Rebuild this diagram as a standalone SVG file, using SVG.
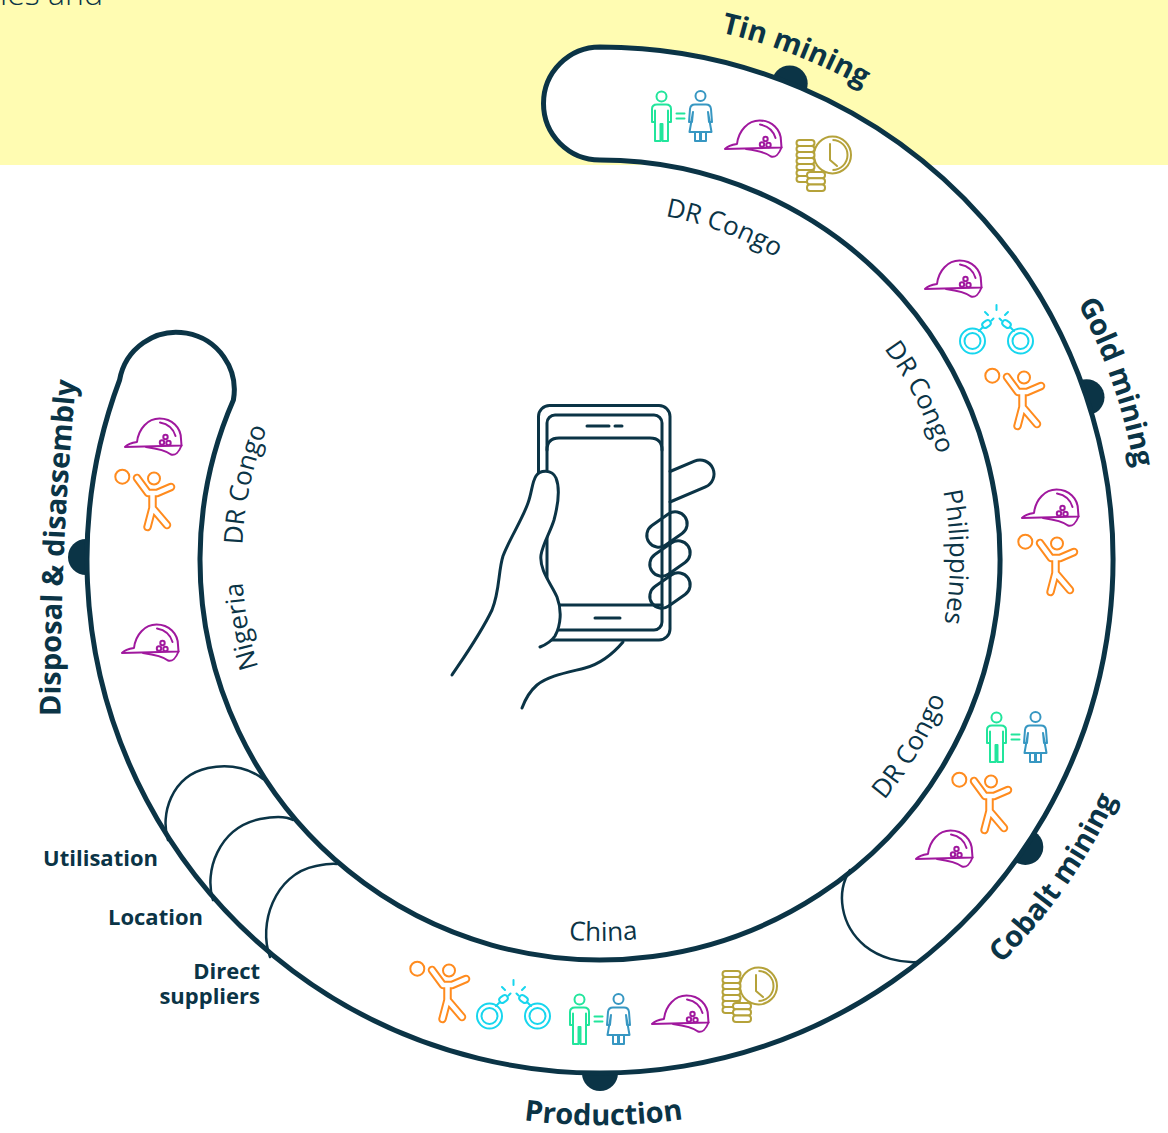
<svg xmlns="http://www.w3.org/2000/svg" width="1168" height="1133" viewBox="0 0 1168 1133">
<style>
  .band{fill:#fff;stroke:#0b3446;stroke-width:5}
  .cap{fill:none;stroke:#0b3446;stroke-width:2.5;stroke-linecap:round}
  .knob{fill:#0b3446}
  .stage{font-family:"Open Sans","Noto Sans","DejaVu Sans",sans-serif;font-weight:700;font-size:29px;fill:#0b3446}
  .place{font-family:"Open Sans","Noto Sans","DejaVu Sans",sans-serif;font-weight:400;font-size:26px;fill:#0b3446}
  .tier{font-family:"Open Sans","Noto Sans","DejaVu Sans",sans-serif;font-weight:700;font-size:22px;fill:#0b3446;text-anchor:end}
  .intro{font-family:"Open Sans","Noto Sans","DejaVu Sans",sans-serif;font-weight:300;font-size:32px;fill:#0b3446}
  .line{fill:none;stroke:#0b3446;stroke-width:3;stroke-linecap:round;stroke-linejoin:round}
</style>
<defs>
  <!-- baselines for the curved labels (centre 600,560) -->
  <path id="arc-tin" d="M515.4,25.6 A541,541 0 0,1 1020.4,219.5"/>
  <path id="arc-gold" d="M955.6,150.9 A542,542 0 0,1 1132,663.4"/>
  <path id="arc-cobalt" d="M840.5,1075.7 A569,569 0 0,0 1166.8,609.6"/>
  <path id="arc-prod" d="M319.5,1051.3 A567,567 0 0,0 886.5,1047.4"/>
  <path id="arc-disp" d="M61,760 Q57,530 85,300"/>
  <path id="arc-c-tin" d="M542.2,214.8 A350,350 0 0,1 870.1,337.4"/>
  <path id="arc-c-gold" d="M792.8,263.1 A354,354 0 0,1 953.5,578.5"/>
  <path id="arc-c-phil" d="M901.6,382.4 A350,350 0 0,1 904.6,732.3"/>
  <path id="arc-c-cob" d="M780.3,885.4 A372,372 0 0,0 971.9,566.5"/>
  <path id="arc-c-china" d="M412.4,891.6 A381,381 0 0,0 793.4,888.3"/>
  <path id="arc-c-left" d="M259.5,670.6 A358,358 0 0,1 334,320.5"/>
  <path id="arc-c-nig" d="M327.8,792.5 A358,358 0 0,1 262.6,440.5"/>

  <!-- hard hat -->
  <g id="ic-helmet" fill="none" stroke="#a0189e" stroke-width="2" stroke-linejoin="round" stroke-linecap="round">
    <path d="M1,31 C4,27.5 9,26.5 13,26 C14.5,12.5 24,2.5 35.5,2.5 C48,2.5 57,11.5 57,23 L57.5,29.5 L1,31 Z"/>
    <path d="M22,31 C33,32.5 42,34.5 47,38.5 C51,40 55,36 57.5,29.5"/>
    <path d="M36,6.5 C44,8 49.5,13 51.5,20"/>
    <circle cx="41.5" cy="21" r="2.2"/>
    <circle cx="38" cy="26.5" r="2.2"/>
    <circle cx="44.5" cy="27" r="2.2"/>
  </g>

  <!-- man = woman -->
  <g id="ic-equal" fill="none" stroke-width="2" stroke-linejoin="round" stroke-linecap="round">
    <g stroke="#22e59c">
      <circle cx="13.5" cy="8.5" r="5"/>
      <path d="M4,34 V21 Q4,16.5 9,16.5 H18 Q23,16.5 23,21 V34 H20 V22.5 M7,22.5 V34 H4 M7,22.5 V53 H12.5 V36 H14.5 V53 H20 V22.5"/>
      <path d="M28.5,25.5 H36.5 M28.5,30.5 H36.5"/>
    </g>
    <g stroke="#3797c2">
      <circle cx="52.5" cy="8" r="5"/>
      <path d="M47,16.5 H58 Q62.5,16.5 63,21 L64,34 H61 L60,24 L63.5,44 H41.5 L45,24 L44,34 H41 L42,21 Q42.5,16.5 47,16.5 Z"/>
      <path d="M47,44 V53 H52 V44 M53,44 V53 H58 V44"/>
    </g>
  </g>

  <!-- coins and clock -->
  <g id="ic-coins" fill="none" stroke="#b5a23a" stroke-width="2" stroke-linejoin="round">
    <circle cx="37.5" cy="19" r="18.5"/>
    <path d="M37.5,4 A15,15 0 0 1 37.5,34"/>
    <path d="M35,8 V24 L42,30" stroke-linecap="round"/>
    <g fill="#fff">
      <rect x="1.5" y="4" width="18" height="6" rx="3"/>
      <rect x="1.5" y="10" width="18" height="6" rx="3"/>
      <rect x="1.5" y="16" width="18" height="6" rx="3"/>
      <rect x="1.5" y="22" width="18" height="6" rx="3"/>
      <rect x="1.5" y="28" width="18" height="6" rx="3"/>
      <rect x="1.5" y="34" width="18" height="6" rx="3"/>
      <rect x="1.5" y="40" width="18" height="6" rx="3"/>
      <rect x="12" y="36" width="18" height="6.3" rx="3"/>
      <rect x="12" y="42.3" width="18" height="6.3" rx="3"/>
      <rect x="12" y="48.6" width="18" height="6.3" rx="3"/>
    </g>
  </g>

  <!-- broken handcuffs -->
  <g id="ic-cuffs" fill="none" stroke="#17d6ee" stroke-width="2" stroke-linecap="round">
    <circle cx="15.5" cy="37" r="12.5"/>
    <circle cx="15.5" cy="37" r="8"/>
    <circle cx="63.5" cy="37" r="12.5"/>
    <circle cx="63.5" cy="37" r="8"/>
    <path d="M22,27 L26,23 M57,27 L53,23"/>
    <rect x="25" y="17" width="9" height="6" rx="3" transform="rotate(-35 29.5 20)"/>
    <rect x="45" y="17" width="9" height="6" rx="3" transform="rotate(35 49.5 20)"/>
    <path d="M34.5,16.5 L36.5,14.5 M44.5,16.5 L42.5,14.5"/>
    <path d="M28,8 L31,11 M39.5,1 V6 M51,8 L48,11"/>
  </g>

  <!-- child with ball -->
  <g id="ic-kid" fill="none" stroke-linecap="round" stroke-linejoin="round">
    <circle cx="8.3" cy="9.7" r="7" stroke="#ff8b1e" stroke-width="2"/>
    <path d="M23,11 L34,26 L43,26 L57,20 M38.5,26 V41 L33.5,60 M38.5,41 L53,58" stroke="#ff8b1e" stroke-width="8.5"/>
    <path d="M23,11 L34,26 L43,26 L57,20 M38.5,26 V41 L33.5,60 M38.5,41 L53,58" stroke="#fff" stroke-width="4.5"/>
    <circle cx="40" cy="11.5" r="6" fill="#fff" stroke="#ff8b1e" stroke-width="2"/>
  </g>
</defs>

<!-- page background -->
<rect x="0" y="0" width="1168" height="1133" fill="#fff"/>
<rect x="0" y="0" width="1168" height="165" fill="#fffcb2"/>
<text class="intro" x="0" y="5">ies and</text>

<!-- stage markers sit under the band so only their outer half shows -->
<g id="markers">
  <circle class="knob" cx="789.7" cy="83.4" r="18"/>
  <circle class="knob" cx="1086.5" cy="397.2" r="18"/>
  <circle class="knob" cx="1025.3" cy="846.9" r="18"/>
  <circle class="knob" cx="600" cy="1073" r="18"/>
  <circle class="knob" cx="86" cy="557" r="18"/>
</g>

<!-- supply-chain band -->
<g id="connectors">
  <path class="band" d="M600,47 A513,513 0 1,1 119.6,380 A57,57 0 0,1 233.4,400 A400,400 0 1,0 600,160 A56.5,56.5 0 0,1 600,47 Z"/>
  <path class="cap" d="M850,870 C836,892 840,925 865,946 C880,958 900,963 918,962"/>
  <path class="cap" d="M168,840 C160,815 171,776 208,768 C233,763 252,770 263,779"/>
  <path class="cap" d="M213,900 C204,872 218,828 260,819 C275,816 286,816 293,820"/>
  <path class="cap" d="M270,957 C258,925 274,874 316,866 C326,864 332,863 337,864"/>
</g>

<g id="stage-tin">
  <text class="stage"><textPath href="#arc-tin" startOffset="50%" text-anchor="middle">Tin mining</textPath></text>
  <text class="place"><textPath href="#arc-c-tin" startOffset="50%" text-anchor="middle">DR Congo</textPath></text>
  <use href="#ic-equal" x="648" y="88"/>
  <use href="#ic-helmet" x="724" y="118"/>
  <use href="#ic-coins" x="795" y="136"/>
</g>

<g id="stage-gold">
  <text class="stage"><textPath href="#arc-gold" startOffset="50%" text-anchor="middle">Gold mining</textPath></text>
  <text class="place"><textPath href="#arc-c-gold" startOffset="50%" text-anchor="middle">DR Congo</textPath></text>
  <text class="place"><textPath href="#arc-c-phil" startOffset="50%" text-anchor="middle">Philippines</textPath></text>
  <use href="#ic-helmet" x="924" y="258"/>
  <use href="#ic-cuffs" x="957" y="304"/>
  <use href="#ic-kid" x="984" y="366"/>
  <use href="#ic-helmet" x="1021" y="487"/>
  <use href="#ic-kid" x="1017" y="532"/>
</g>

<g id="stage-cobalt">
  <text class="stage"><textPath href="#arc-cobalt" startOffset="50%" text-anchor="middle">Cobalt mining</textPath></text>
  <text class="place"><textPath href="#arc-c-cob" startOffset="50%" text-anchor="middle">DR Congo</textPath></text>
  <use href="#ic-equal" x="983" y="709"/>
  <use href="#ic-kid" x="951" y="770"/>
  <use href="#ic-helmet" x="915" y="828"/>
</g>

<g id="stage-production">
  <text class="stage"><textPath href="#arc-prod" startOffset="50%" text-anchor="middle">Production</textPath></text>
  <text class="place"><textPath href="#arc-c-china" startOffset="50%" text-anchor="middle">China</textPath></text>
  <use href="#ic-kid" x="409" y="959"/>
  <use href="#ic-cuffs" x="474" y="979"/>
  <use href="#ic-equal" x="566" y="991"/>
  <use href="#ic-helmet" x="651" y="993"/>
  <use href="#ic-coins" x="721" y="967"/>
</g>

<g id="stage-disposal">
  <text class="stage"><textPath href="#arc-disp" startOffset="212" text-anchor="middle">Disposal &amp; disassembly</textPath></text>
  <text class="place"><textPath href="#arc-c-left" startOffset="50%" text-anchor="middle">DR Congo</textPath></text>
  <text class="place"><textPath href="#arc-c-nig" startOffset="50%" text-anchor="middle">Nigeria</textPath></text>
  <use href="#ic-helmet" x="124" y="416"/>
  <use href="#ic-kid" x="114" y="467"/>
  <use href="#ic-helmet" x="121" y="622"/>
</g>

<g id="legend">
  <text class="tier" x="158" y="866">Utilisation</text>
  <text class="tier" x="203" y="925">Location</text>
  <text class="tier" x="260" y="979">Direct</text>
  <text class="tier" x="260" y="1004">suppliers</text>
</g>

<!-- hand holding a phone -->
<g id="phone">
  <rect class="line" x="538.5" y="405.5" width="131.5" height="234.5" rx="11"/>
  <rect class="line" x="547" y="415" width="115" height="215" rx="8"/>
  <path class="line" d="M547,450 Q547,438 559,438 H650 Q662,438 662,450"/>
  <path class="line" d="M547,605 H662"/>
  <path class="line" d="M587,426 H609 M615,426 H622"/>
  <path class="line" d="M595,618 H620"/>
  <path class="line" d="M670,471.5 L694.5,461.1 A14,14 0 0 1 705.5,486.9 L670,502"/>
  <rect class="line" x="-22" y="-12" width="44" height="24" rx="12" fill="#fff" transform="translate(670,590.5) rotate(-35)"/>
  <rect class="line" x="-22" y="-12" width="44" height="24" rx="12" fill="#fff" transform="translate(670,558.5) rotate(-35)"/>
  <rect class="line" x="-22" y="-12" width="44" height="24" rx="12" fill="#fff" transform="translate(667,529.5) rotate(-35)"/>
  <path fill="#fff" d="M452,675 C462,660 480,635 492,610 C500,590 498,572 503,556 C510,538 522,520 528,503 C532,492 532,482 536,476 C540,470 552,469 556,478 C560,488 558,505 554,520 C550,533 543,543 541,555 C539,570 552,585 557,597 C562,610 561,625 555,636 C551,642 545,645 540,647 L452,675 Z"/>
  <path class="line" d="M452,675 C462,660 480,635 492,610 C500,590 498,572 503,556 C510,538 522,520 528,503 C532,492 532,482 536,476 C540,470 552,469 556,478 C560,488 558,505 554,520 C550,533 543,543 541,555 C539,570 552,585 557,597 C562,610 561,625 555,636 C551,642 545,645 540,647"/>
  <path class="line" d="M623,642 C612,655 600,664 585,668 C565,673 548,676 537,685 C530,691 525,700 522,708"/>
</g>
</svg>
